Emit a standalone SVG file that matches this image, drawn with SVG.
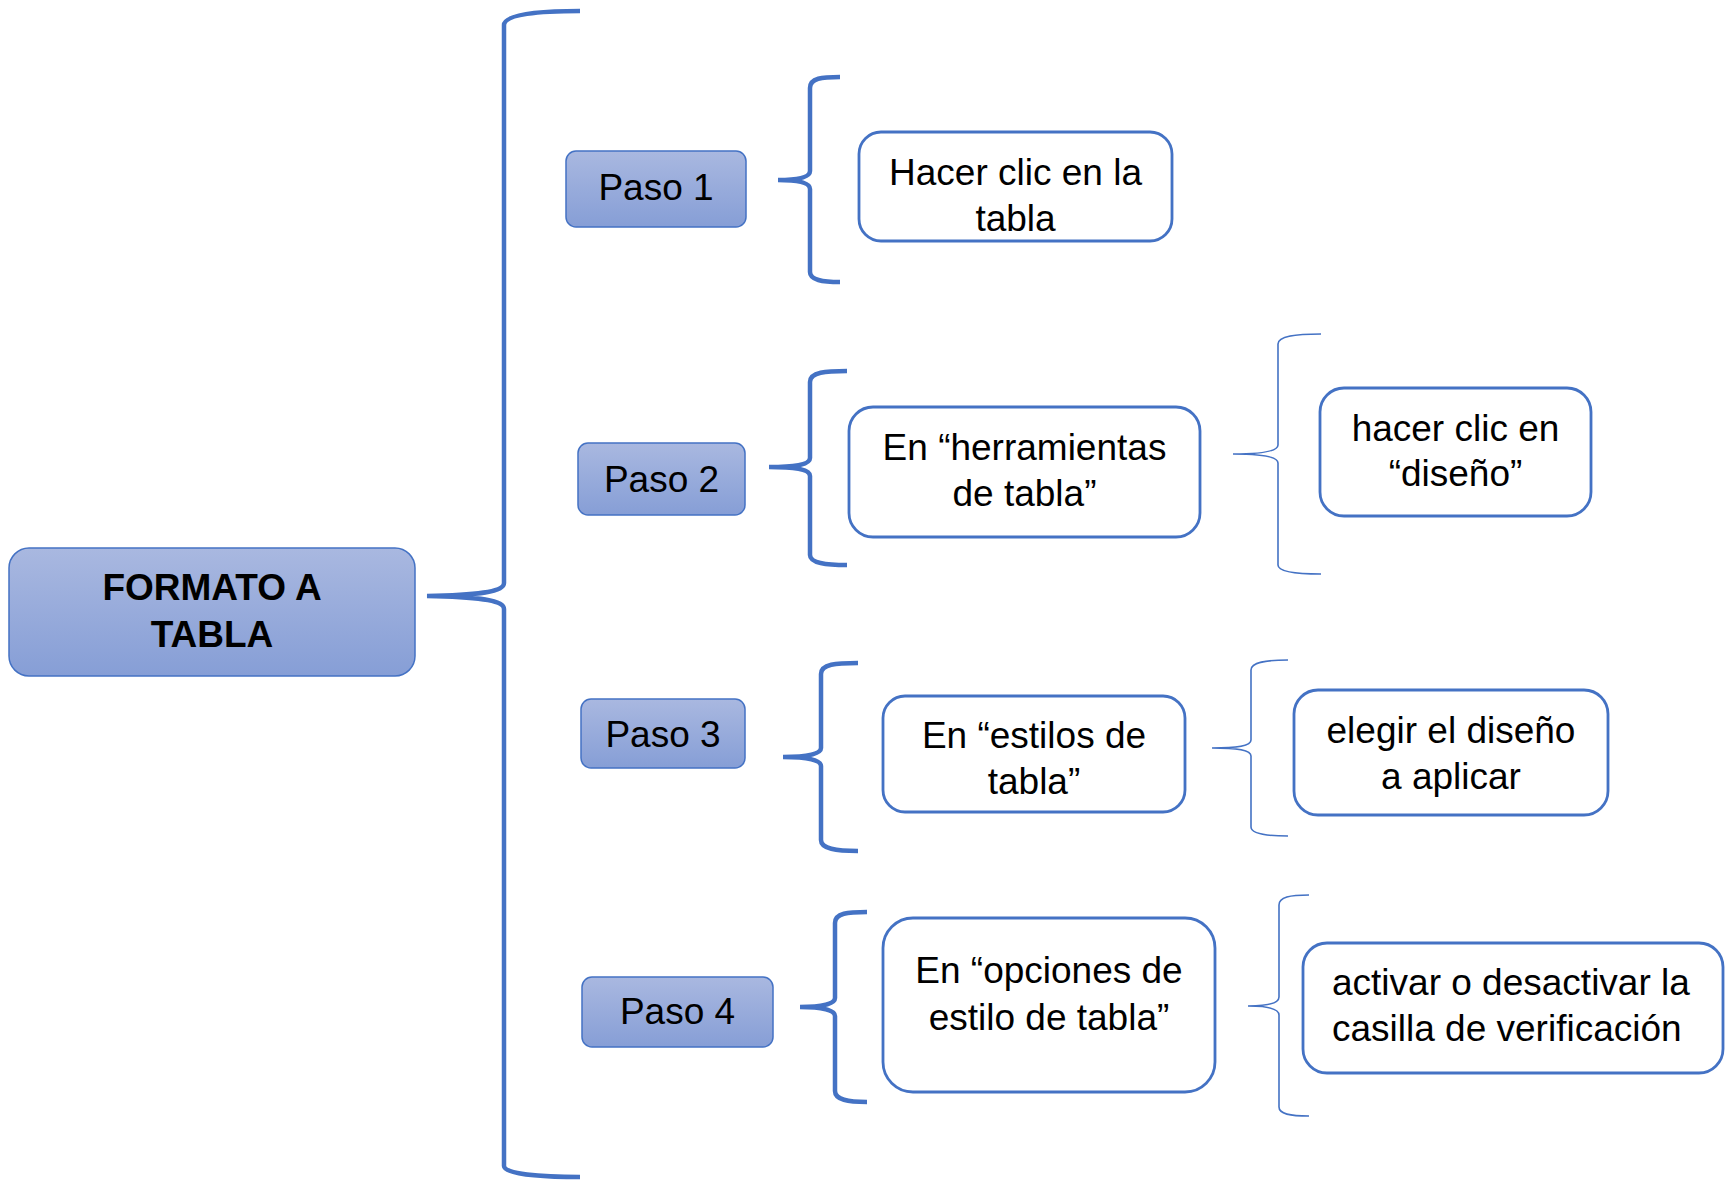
<svg xmlns="http://www.w3.org/2000/svg" width="1726" height="1180" viewBox="0 0 1726 1180">
<defs>
<linearGradient id="g" x1="0" y1="0" x2="0" y2="1">
<stop offset="0" stop-color="#A9B8E0"/>
<stop offset="1" stop-color="#869ED6"/>
</linearGradient>
<style>
.blue{fill:url(#g);stroke:#4472C4;stroke-width:1.5}
.white{fill:#FFFFFF;stroke:#4472C4;stroke-width:2.8}
.t{font-family:"Liberation Sans",Arial,sans-serif;font-size:37px;fill:#000;text-anchor:middle}
.tl{text-anchor:start}
.b{font-weight:bold}
.br{fill:none;stroke:#4472C4;stroke-width:4.5;stroke-linecap:butt}
.thin{fill:none;stroke:#4472C4;stroke-width:1.6}
</style>
</defs>
<rect width="1726" height="1180" fill="#FFFFFF"/>
<g id="connectors">
<path class="br" d="M580,11 C540,11 504,14 504,25 L504,583 C504,592 480,595 427,596 C480,597 504,600 504,609 L504,1166 C504,1174 540,1177 580,1177"/>
<path class="br" d="M840,77 C822,77 810,78 810,88 L810,171 C810,177 800,180 778,180 C800,180 810,183 810,189 L810,272 C810,280 822,282 840,282"/>
<path class="br" d="M847,371 C826,371 810,372 810,382 L810,458 C810,464 798,467 769,467 C798,467 810,470 810,476 L810,555 C810,563 826,565 847,565"/>
<path class="br" d="M858,663 C836,663 821,664 821,674 L821,748 C821,754 808,757 783,757 C808,757 821,760 821,766 L821,840 C821,849 836,851 858,851"/>
<path class="br" d="M867,912 C848,912 835,913 835,923 L835,998 C835,1004 822,1007 800,1007 C822,1007 835,1010 835,1016 L835,1091 C835,1100 848,1102 867,1102"/>
<path class="thin" d="M1321,334 C1296,334 1278,336 1278,344 L1278,445 C1278,451 1262,454 1233,454 C1262,454 1278,457 1278,463 L1278,565 C1278,572 1296,574 1321,574"/>
<path class="thin" d="M1288,660 C1266,660 1251,662 1251,670 L1251,740 C1251,746 1238,748 1212,748 C1238,748 1251,750 1251,756 L1251,827 C1251,834 1266,836 1288,836"/>
<path class="thin" d="M1309,895 C1290,895 1279,897 1279,905 L1279,997 C1279,1003 1268,1006 1248,1006 C1268,1006 1279,1009 1279,1015 L1279,1107 C1279,1114 1290,1116 1309,1116"/>
</g>
<g id="main">
<rect class="blue" x="9" y="548" width="406" height="128" rx="20"/>
<text class="t b" x="212" y="600">FORMATO A</text>
<text class="t b" x="212" y="647">TABLA</text>
</g>
<g id="paso1">
<rect class="blue" x="566" y="151" width="180" height="76" rx="10"/>
<text class="t" x="656" y="200">Paso 1</text>
</g>
<g id="paso2">
<rect class="blue" x="578" y="443" width="167" height="72" rx="10"/>
<text class="t" x="661.5" y="492">Paso 2</text>
</g>
<g id="paso3">
<rect class="blue" x="581" y="699" width="164" height="69" rx="10"/>
<text class="t" x="663" y="747">Paso 3</text>
</g>
<g id="paso4">
<rect class="blue" x="582" y="977" width="191" height="70" rx="10"/>
<text class="t" x="677.5" y="1024">Paso 4</text>
</g>
<g id="hacer">
<rect class="white" x="859" y="132" width="313" height="109" rx="22"/>
<text class="t" x="1015.5" y="185">Hacer clic en la</text>
<text class="t" x="1015.5" y="231">tabla</text>
</g>
<g id="herramientas">
<rect class="white" x="849" y="407" width="351" height="130" rx="24"/>
<text class="t" x="1024.5" y="460">En “herramientas</text>
<text class="t" x="1024.5" y="506">de tabla”</text>
</g>
<g id="diseno">
<rect class="white" x="1320" y="388" width="271" height="128" rx="24"/>
<text class="t" x="1455.5" y="441">hacer clic en</text>
<text class="t" x="1455.5" y="486">“diseño”</text>
</g>
<g id="estilos">
<rect class="white" x="883" y="696" width="302" height="116" rx="22"/>
<text class="t" x="1034" y="748">En “estilos de</text>
<text class="t" x="1034" y="794">tabla”</text>
</g>
<g id="elegir">
<rect class="white" x="1294" y="690" width="314" height="125" rx="24"/>
<text class="t" x="1451" y="743">elegir el diseño</text>
<text class="t" x="1451" y="789">a aplicar</text>
</g>
<g id="opciones">
<rect class="white" x="883" y="918" width="332" height="174" rx="30"/>
<text class="t" x="1049" y="983">En “opciones de</text>
<text class="t" x="1049" y="1030">estilo de tabla”</text>
</g>
<g id="activar">
<rect class="white" x="1303" y="943" width="420" height="130" rx="24"/>
<text class="t tl" x="1332" y="995">activar o desactivar la</text>
<text class="t tl" x="1332" y="1041">casilla de verificación</text>
</g>
</svg>
